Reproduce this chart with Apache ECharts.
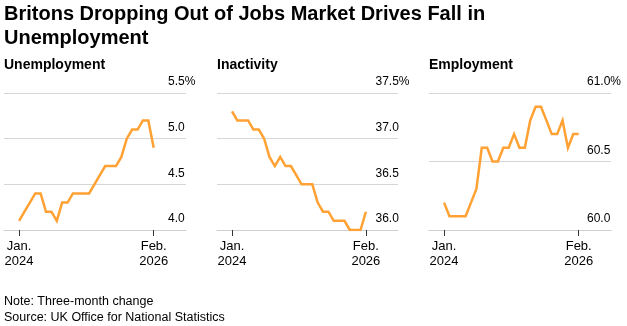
<!DOCTYPE html>
<html>
<head>
<meta charset="utf-8">
<script src="https://cdn.jsdelivr.net/npm/echarts@6/dist/echarts.min.js"></script>
<style>
html,body{margin:0;padding:0;background:#fff;}
#chart{width:627px;height:326px;}
</style>
</head>
<body>
<div id="chart"></div>
<script>
var months = ['2024-01','2024-02','2024-03','2024-04','2024-05','2024-06','2024-07','2024-08','2024-09','2024-10','2024-11','2024-12',
              '2025-01','2025-02','2025-03','2025-04','2025-05','2025-06','2025-07','2025-08','2025-09','2025-10','2025-11','2025-12',
              '2026-01','2026-02'];
var unemployment = [4.1,4.2,4.3,4.4,4.4,4.2,4.2,4.1,4.3,4.3,4.4,4.4,4.4,4.4,4.5,4.6,4.7,4.7,4.7,4.8,5.0,5.1,5.1,5.2,5.2,4.9];
var inactivity = [37.3,37.2,37.2,37.2,37.1,37.1,37.0,36.8,36.7,36.8,36.7,36.7,36.6,36.5,36.5,36.5,36.3,36.2,36.2,36.1,36.1,36.1,36.0,36.0,36.0,36.2];
var employment = [60.2,60.1,60.1,60.1,60.1,60.2,60.3,60.6,60.6,60.5,60.5,60.6,60.6,60.7,60.6,60.6,60.8,60.9,60.9,60.8,60.7,60.7,60.8,60.6,60.7,60.7];
var panelTitles = ['Unemployment','Inactivity','Employment'];
var yRanges = [[4.0,5.5],[36.0,37.5],[60.0,61.0]];
var xTickLabels = ['Jan.\n2024','Feb.\n2026'];

var FONT = '"Liberation Sans", Arial, Helvetica, sans-serif';
var seriesData = [unemployment, inactivity, employment];
var grids = [
  {left:4, width:182, top:93, height:137},
  {left:217, width:181, top:93, height:137},
  {left:429, width:182, top:93, height:137}
];
var labelMargins = [18, 22.5, 24];
var lastIdx = months.length - 1;

var option = {
  animation:false,
  backgroundColor:'#fff',
  title: {
    text:'Britons Dropping Out of Jobs Market Drives Fall in\nUnemployment',
    left:4, top:2, padding:0,
    textStyle:{fontFamily:FONT, fontWeight:'bold', fontSize:20, lineHeight:24, color:'#000'}
  },
  graphic: [],
  grid: grids,
  xAxis: [],
  yAxis: [],
  series: []
};

panelTitles.forEach(function(t, i){
  option.graphic.push({type:'text', left:grids[i].left, top:58,
    style:{text:t, font:'bold 14px ' + FONT, fill:'#000'}});
  option.xAxis.push({
    type:'value', gridIndex:i, min:-2.8, max:31,
    axisLine:{show:true, lineStyle:{color:'#cfcfcf', width:1}},
    axisTick:{show:true, customValues:[0,lastIdx], length:6, lineStyle:{color:'#333', width:1}},
    axisLabel:{show:true, customValues:[0,lastIdx], margin:9, fontFamily:FONT, fontSize:13, lineHeight:15, color:'#000',
      formatter:function(v){ return v === 0 ? xTickLabels[0] : xTickLabels[1]; }},
    splitLine:{show:false}
  });
  var r = yRanges[i];
  option.yAxis.push({
    type:'value', gridIndex:i, position:'right', min:r[0], max:r[1], interval:0.5,
    axisLine:{show:false}, axisTick:{show:false},
    splitLine:{show:true, lineStyle:{color:'#d6d6d6', width:1}},
    axisLabel:{inside:true, align:'left', verticalAlign:'bottom', margin:labelMargins[i], padding:[0,0,5,0],
      fontFamily:FONT, fontSize:12, color:'#000',
      formatter:function(v){ return v >= r[1]-1e-9 ? v.toFixed(1) + '%' : v.toFixed(1); }}
  });
  option.series.push({
    type:'line', xAxisIndex:i, yAxisIndex:i, symbol:'none',
    lineStyle:{color:'#ffa133', width:2.5, join:'miter'},
    data: seriesData[i].map(function(v, k){ return [k, v]; })
  });
});

option.graphic.push({type:'text', left:4, top:295,
  style:{text:'Note: Three-month change', font:'12.5px ' + FONT, fill:'#000'}});
option.graphic.push({type:'text', left:4, top:311,
  style:{text:'Source: UK Office for National Statistics', font:'12.5px ' + FONT, fill:'#000'}});

var chart = echarts.init(document.getElementById('chart'), null, {renderer:'canvas'});
chart.setOption(option);
</script>
</body>
</html>
